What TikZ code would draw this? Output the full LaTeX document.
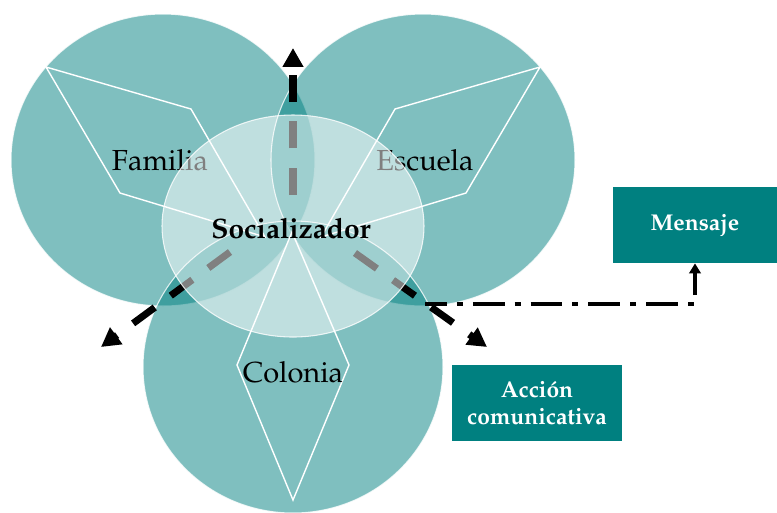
\documentclass[tikz,border=0pt]{standalone}
\usepackage[T1]{fontenc}
\usepackage{mathpazo}
\usetikzlibrary{arrows.meta, positioning}

\begin{document}
\begin{tikzpicture}[x=0.02cm, y=-0.02cm,
    petal/.style={fill=teal, fill opacity=0.5, draw=white, draw opacity=0.8, line width=0.6pt},
    kite/.style={draw=white, line width=0.8pt, line join=miter},
    lbl/.style={font=\fontsize{16.5}{20}\selectfont, text=black, inner sep=0pt},
    ray/.style={line width=4pt, dash pattern=on 15.3pt off 11.3pt,
      -{Triangle[length=10.8pt, width=11.3pt]}},
    box/.style={fill=teal, text=white, font=\fontsize{13}{15}\selectfont\bfseries,
      align=center, inner sep=0pt, minimum height=1.52cm}]
      \useasboundingbox (0,0) rectangle (777,512);

      \path[petal] (163,160) ellipse [x radius=152, y radius=146];
      \path[petal] (423,160) ellipse [x radius=152, y radius=146];
      \path[petal] (293,367) ellipse [x radius=150, y radius=146];

      \draw[kite] (46,67) -- (191,109) -- (265,237) -- (120,193) -- cycle;
      \draw[kite] (540,67) -- (395,109) -- (321,237) -- (466,193) -- cycle;
      \draw[kite] (292,232) -- (237,365) -- (293,500) -- (349,365) -- cycle;

      \node[lbl] (fam) at (160,160) {Familia};
      \node[lbl] (esc) at (425,160) {Escuela};
      \node[lbl] (col) at (293,372) {Colonia};

      \coordinate (upfrom)    at (293,195);
      \coordinate (upto)      at (293,48);
      \coordinate (leftfrom)  at (230,252);
      \coordinate (leftto)    at (101,347);
      \coordinate (rightfrom) at (355,253);
      \coordinate (rightto)   at (487,347);
      \draw[ray] (upfrom) -- (upto);
      \draw[ray] (leftfrom) -- (leftto);
      \draw[ray] (rightfrom) -- (rightto);

      \path[fill=white, fill opacity=0.5, draw=white, draw opacity=0.8, line width=0.6pt]
        (293,226) ellipse [x radius=131, y radius=111];

      \node[font=\fontsize{16}{19}\selectfont\bfseries, inner sep=0pt] (soc) at (291,228) {Socializador};

      \node[box, minimum width=3.28cm] (msg) at (695,225) {Mensaje};
      \node[box, minimum width=3.4cm] (acc) at (537,403) {Acci\'on\\comunicativa};

      \coordinate (junc) at (425,304);
      \draw[line width=2.8pt, dash pattern=on 18.1pt off 5.7pt on 3.4pt off 5.7pt,
        dash phase=5.7pt, -{Triangle[length=5.7pt, width=6.5pt]}]
        (junc) -| (msg.south);
\end{tikzpicture}
\end{document}
